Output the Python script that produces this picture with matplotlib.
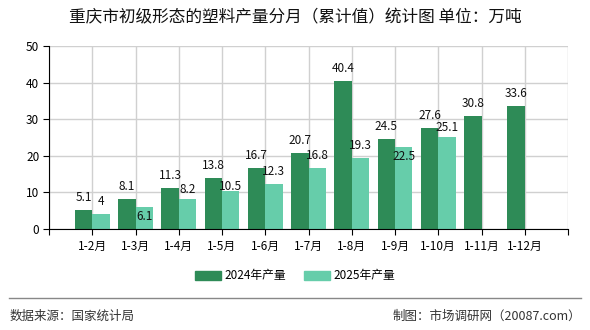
import matplotlib
matplotlib.use("Agg")
import matplotlib.pyplot as plt
from matplotlib.patches import Rectangle
from matplotlib.lines import Line2D
import numpy as np

plt.rcParams["font.family"] = ["Noto Sans CJK SC", "DejaVu Sans"]

categories = ["1-2月", "1-3月", "1-4月", "1-5月", "1-6月", "1-7月",
              "1-8月", "1-9月", "1-10月", "1-11月", "1-12月"]
prod_2024 = [5.1, 8.1, 11.3, 13.8, 16.7, 20.7, 40.4, 24.5, 27.6, 30.8, 33.6]
prod_2025 = [4, 6.1, 8.2, 10.5, 12.3, 16.8, 19.3, 22.5, 25.1, None, None]

# label vertical offsets (points) for 2025 labels, the chart shifts some to avoid overlaps
offs_2025 = [9, -7, 7, 3, 9, 9, 9, -7, 7]

DARK = "#2E8B57"
LIGHT = "#66CDAA"

fig = plt.figure(figsize=(5.9, 3.3), dpi=100)
ax = fig.add_axes([49 / 590, 1 - 229 / 330, 519 / 590, 183 / 330])

x = np.arange(1, len(categories) + 1)
w = 0.4
ax.bar(x - w / 2, prod_2024, width=w, color=DARK, zorder=3)
x25 = [xi for xi, v in zip(x, prod_2025) if v is not None]
v25 = [v for v in prod_2025 if v is not None]
ax.bar(np.array(x25) + w / 2, v25, width=w, color=LIGHT, zorder=3)

for xi, v in zip(x, prod_2024):
    ax.annotate(f"{v:g}", (xi - w / 2, v), xytext=(0, 9), textcoords="offset points",
                ha="center", va="center", fontsize=8.5, color="#111111", zorder=4)
for xi, v, o in zip(x25, v25, offs_2025):
    ax.annotate(f"{v:g}", (xi + w / 2, v), xytext=(0, o), textcoords="offset points",
                ha="center", va="center", fontsize=8.5, color="#111111", zorder=4)

ax.set_xlim(0, 12)
ax.set_ylim(0, 50)
ax.set_yticks(range(0, 51, 10))
ax.set_xticks(range(0, 13))
ax.set_xticklabels([""] + categories + [""])
ax.grid(True, color="#d0d0d0", linewidth=1, zorder=0)
for s in ["top", "right"]:
    ax.spines[s].set_visible(False)
ax.spines["left"].set_color("black")
ax.spines["bottom"].set_color("black")
ax.spines["left"].set_zorder(5)
ax.spines["bottom"].set_zorder(5)
ax.tick_params(axis="both", labelsize=8.5, length=4, colors="black", pad=3)
ax.tick_params(axis="x", pad=4)

fig.text(0.5, 1 - 18 / 330, "重庆市初级形态的塑料产量分月（累计值）统计图 单位：万吨",
         ha="center", va="center", fontsize=12, fontweight="medium", color="#111111")

# legend
handles = [Rectangle((0, 0), 1, 1, color=DARK), Rectangle((0, 0), 1, 1, color=LIGHT)]
fig.legend(handles, ["2024年产量", "2025年产量"], loc="center", ncol=2,
           bbox_to_anchor=(0.5, 1 - 276 / 330), frameon=False, fontsize=8.5,
           handlelength=2.2, handleheight=0.9, columnspacing=1.5, handletextpad=0.3)

fig.add_artist(Line2D([9 / 590, 581 / 590], [1 - 298 / 330] * 2, color="#888888", linewidth=1))
fig.text(10 / 590, 1 - 316 / 330, "数据来源：国家统计局", ha="left", va="center",
         fontsize=9, color="#333333")
fig.text(581 / 590, 1 - 316 / 330, "制图：市场调研网（20087.com）", ha="right", va="center",
         fontsize=9, color="#333333")

fig.savefig("out.png", dpi=100)
